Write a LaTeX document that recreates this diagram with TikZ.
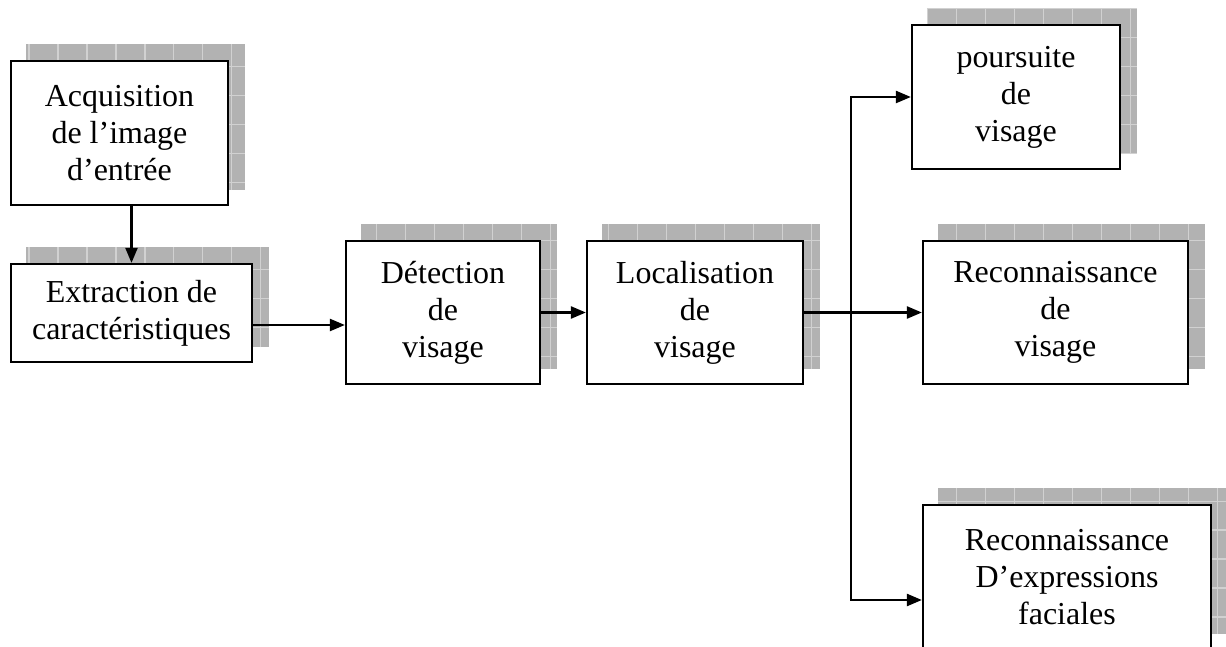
\documentclass[tikz,border=0pt]{standalone}
\usepackage{fontspec}
\setmainfont{Liberation Serif}
\usepackage{tikz}
\usetikzlibrary{arrows.meta,calc,backgrounds}

\begin{document}
\begin{tikzpicture}[x=0.02cm,y=0.02cm,
    block/.style={draw,fill=white,line width=1.3pt,align=center,inner sep=0pt,
      font=\fontsize{18.2}{21}\selectfont},
    shadowfill/.style={fill=black!30},
    shadowgrid/.style={draw=black!18,line width=0.6pt,step=0.58cm},
    link/.style={line width=1.3pt,-{Triangle[length=0.3cm,width=0.24cm]}}]
  \useasboundingbox (0,0) rectangle (1226,646);
  % Input image and features
  \node[block,minimum width=4.34cm,minimum height=2.88cm] (acq) at (119.5,513)
    {Acquisition\\de l'image\\d'entrée};
  \node[block,minimum width=4.82cm,minimum height=1.96cm] (extr) at (131.5,333)
    {Extraction de\\caractéristiques};
  % Face detection and localisation
  \node[block,minimum width=3.88cm,minimum height=2.86cm] (det) at (443,333.5)
    {Détection\\de\\visage};
  \node[block,minimum width=4.32cm,minimum height=2.86cm] (loc) at (695,333.5)
    {Localisation\\de\\visage};
  % Applications
  \node[block,minimum width=4.16cm,minimum height=2.88cm] (pours) at (1016,549)
    {poursuite\\de\\visage};
  \node[block,minimum width=5.30cm,minimum height=2.86cm] (reco) at (1055.5,333.5)
    {Reconnaissance\\de\\visage};
  \node[block,minimum width=5.76cm,minimum height=2.88cm] (expr) at (1067,69)
    {Reconnaissance\\D'expressions\\faciales};
  % Shadows behind the blocks
  \begin{scope}[on background layer]
    \foreach \n in {acq,extr,det,loc,pours,reco,expr} {
      \fill[shadowfill] ($(\n.south west)+(16,16)$) rectangle ($(\n.north east)+(16,16)$);
      \draw[shadowgrid] ($(\n.south west)+(16,16)$) grid ($(\n.north east)+(16,16)$);
    }
  \end{scope}
  % Connectors
  \draw[link] (extr.north |- acq.south) -- (extr.north);
  \draw[link] ($(extr.east)+(0,-12)$) -- (det.west |- {$(extr.east)+(0,-12)$});
  \draw[link] (det) -- (loc);
  \draw[link] (loc) -- (reco);
  \coordinate (split) at (851,332);
  \draw[link] (split) |- (pours.west);
  \draw[link] (split) |- ($(expr.west)+(0,-23)$);
\end{tikzpicture}
\end{document}
